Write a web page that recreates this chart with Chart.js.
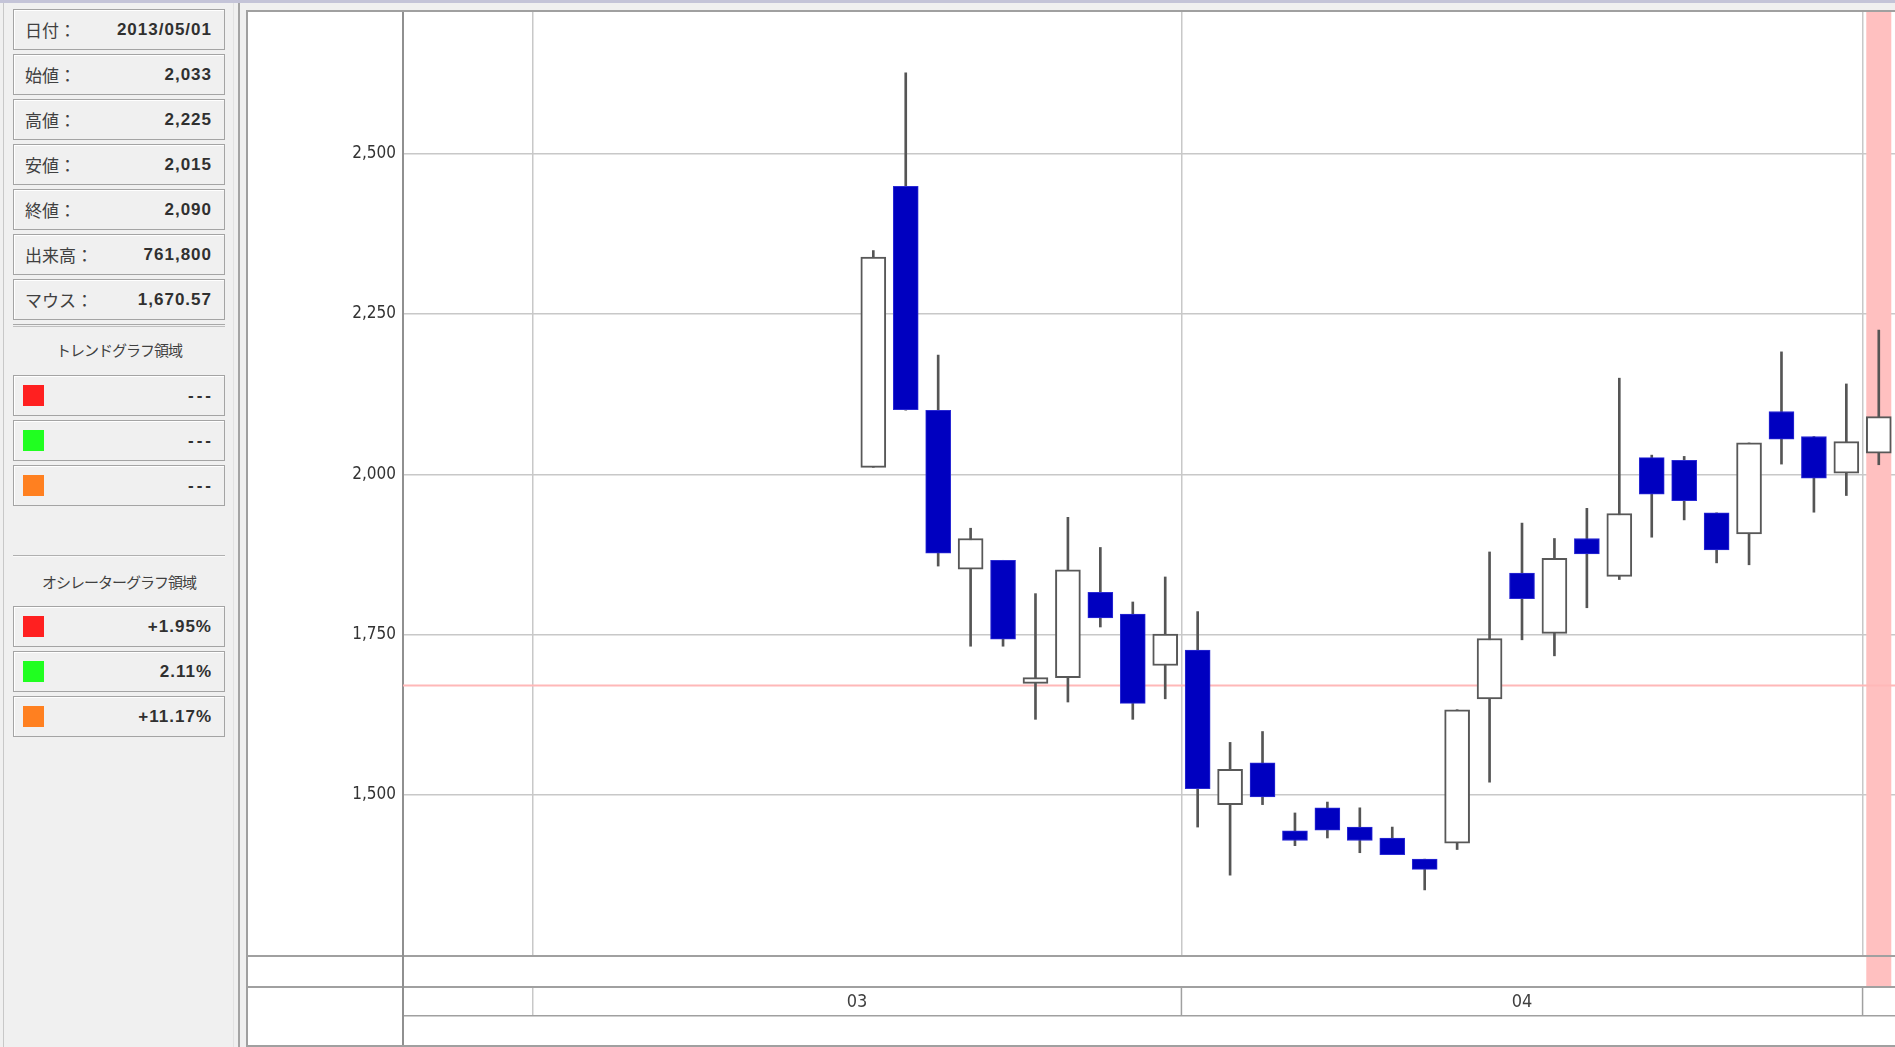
<!DOCTYPE html>
<html><head><meta charset="utf-8">
<script src="https://cdn.jsdelivr.net/npm/chart.js@4.4.1/dist/chart.umd.min.js"></script>
<style>
html,body{margin:0;padding:0;width:1895px;height:1047px;overflow:hidden;background:#f0f0f0;}
#topstripe{position:absolute;left:0;top:0;width:1895px;height:3px;background:#c4c4d8;}
#leftedge{position:absolute;left:3px;top:3px;width:1px;height:1044px;background:#c8c8c8;}
#divider{position:absolute;left:238px;top:3px;width:2px;height:1044px;background:#a4a4a4;}
#divider2{position:absolute;left:233px;top:3px;width:1px;height:1044px;background:#e2e2e2;}
#frame{position:absolute;left:246px;top:10px;width:1649px;height:1037px;box-sizing:border-box;border-left:2px solid #a0a0a0;border-top:2px solid #a0a0a0;border-bottom:2px solid #a0a0a0;background:#fff;}
#wrap{position:absolute;left:248px;top:12px;width:1647px;height:1033px;}
.box{position:absolute;left:13px;width:212px;height:41px;box-sizing:border-box;border:1px solid #a4a4a4;box-shadow:inset 1px 1px 0 #fff;}
.lab{position:absolute;left:11px;top:0;line-height:39px;font-size:17px;font-family:'Noto Sans CJK JP',sans-serif;color:#404040;}
.val{position:absolute;right:12px;top:0;line-height:39px;font-weight:bold;font-size:17px;font-family:'Liberation Sans',sans-serif;letter-spacing:1px;color:#303030;}
.sq{position:absolute;left:9px;top:9px;width:21px;height:21px;}
.head{position:absolute;left:13px;width:212px;height:20px;line-height:20px;text-align:center;font-size:15px;font-family:'Noto Sans CJK JP',sans-serif;color:#404040;letter-spacing:-1px;}
.sep{position:absolute;left:13px;width:212px;}
</style></head>
<body>
<div id="topstripe"></div>
<div id="leftedge"></div>
<div id="divider2"></div>
<div id="divider"></div>
<div id="panel"></div>
<div id="frame"></div>
<div id="wrap"><canvas id="c"></canvas></div>
<script>
// ---- data ----
const dates = ['2013/02/25','2013/02/26','2013/02/27','2013/02/28',
 '2013/03/01','2013/03/04','2013/03/05','2013/03/06','2013/03/07','2013/03/08','2013/03/11','2013/03/12','2013/03/13','2013/03/14',
 '2013/03/15','2013/03/18','2013/03/19','2013/03/21','2013/03/22','2013/03/25','2013/03/26','2013/03/27','2013/03/28','2013/03/29',
 '2013/04/01','2013/04/02','2013/04/03','2013/04/04','2013/04/05','2013/04/08','2013/04/09','2013/04/10','2013/04/11','2013/04/12',
 '2013/04/15','2013/04/16','2013/04/17','2013/04/18','2013/04/19','2013/04/22','2013/04/23','2013/04/24','2013/04/25','2013/04/26','2013/04/30',
 '2013/05/01'];
const opens  = [null,null,null,null,null,null,null,null,null,null,null,null,null,null,
 2011,2449,2100,1852,1866,1674,1683,1816,1782,1702,
 1726,1485,1550,1444,1480,1450,1433,1400,1425,1650,
 1846,1752,1900,1841,2026,2022,1940,1907,2098,2059,2002,
 2033];
const highs  = [null,null,null,null,null,null,null,null,null,null,null,null,null,null,
 2349,2626,2186,1916,1866,1814,1933,1886,1801,1840,
 1786,1582,1599,1472,1489,1480,1450,1400,1633,1879,
 1924,1900,1947,2150,2030,2028,1940,2049,2191,2059,2141,
 2225];
const lows   = [null,null,null,null,null,null,null,null,null,null,null,null,null,null,
 2011,2100,1857,1732,1732,1618,1645,1762,1618,1650,
 1450,1375,1485,1421,1433,1410,1407,1352,1415,1520,
 1742,1717,1792,1836,1902,1929,1862,1859,2016,1941,1967,
 2015];
const closes = [null,null,null,null,null,null,null,null,null,null,null,null,null,null,
 2339,2101,1877,1900,1743,1683,1851,1776,1643,1751,
 1510,1540,1497,1429,1445,1429,1407,1384,1633,1744,
 1806,1869,1876,1939,1969,1959,1882,2049,2055,1994,2051,
 2090];
const yTickValues = [1500, 1750, 2000, 2250, 2500];
const monthLabels = ['03', '04'];
const crosshairValue = 1670.57;
const crosshairIndex = 45;

const panelLabels = ['日付：','始値：','高値：','安値：','終値：','出来高：','マウス：'];
const panelValues = ['2013/05/01','2,033','2,225','2,015','2,090','761,800','1,670.57'];
const trendValues = ['---','---','---'];
const oscValues = ['+1.95%','2.11%','+11.17%'];
const seriesColors = ['#ff2020','#20ff20','#ff8020'];

// ---- left panel ----
(function(){
  const p = document.getElementById('panel');
  let h = '';
  const infoTops = [9,54,99,144,189,234,279];
  panelLabels.forEach((l,i)=>{
    h += `<div class="box" style="top:${infoTops[i]}px"><span class="lab">${l}</span><span class="val">${panelValues[i]}</span></div>`;
  });
  h += `<div class="sep" style="top:324px;height:1px;background:#a8a8a8"></div><div class="sep" style="top:326px;height:1px;background:#c0c0c0"></div>`;
  h += `<div class="head" style="top:340px">トレンドグラフ領域</div>`;
  const trendTops = [375,420,465];
  trendValues.forEach((v,i)=>{
    h += `<div class="box" style="top:${trendTops[i]}px"><span class="sq" style="background:${seriesColors[i]}"></span><span class="val" style="letter-spacing:3px;right:10px">${v}</span></div>`;
  });
  h += `<div class="sep" style="top:555px;height:1px;background:#b0b0b0"></div><div class="sep" style="top:556px;height:1px;background:#fafafa"></div>`;
  h += `<div class="head" style="top:572px">オシレーターグラフ領域</div>`;
  const oscTops = [606,651,696];
  oscValues.forEach((v,i)=>{
    h += `<div class="box" style="top:${oscTops[i]}px"><span class="sq" style="background:${seriesColors[i]}"></span><span class="val">${v}</span></div>`;
  });
  p.innerHTML = h;
})();

// ---- chart ----
const monthOf = d => d.slice(5,7);
const isMonthStart = i => i > 0 && i < dates.length && monthOf(dates[i]) !== monthOf(dates[i-1]);
const isUp = i => closes[i] >= opens[i];

const framePlugin = {
  id: 'frameRows',
  beforeDatasetsDraw(chart){
    const {ctx, chartArea: ca, scales: {x, y}} = chart;
    ctx.save();
    const cx = x.getPixelForValue(crosshairIndex);
    ctx.fillStyle = '#ffc0c0';
    ctx.fillRect(cx - 12.5, ca.top, 25, ca.bottom - ca.top);
    const py = y.getPixelForValue(crosshairValue);
    ctx.strokeStyle = '#ffb8b8';
    ctx.lineWidth = 2;
    ctx.beginPath(); ctx.moveTo(ca.left, py); ctx.lineTo(ca.right, py); ctx.stroke();
    ctx.restore();
  },
  afterDraw(chart){
    const {ctx, chartArea: ca, scales: {x}} = chart;
    const b = ca.bottom, W = chart.width, L = ca.left, H = chart.height;
    ctx.save();
    const cx = x.getPixelForValue(crosshairIndex);
    ctx.fillStyle = '#fff';
    ctx.fillRect(0, b, W, H - b);
    ctx.fillStyle = '#ffc0c0';
    ctx.fillRect(cx - 12.5, b + 2, 25, 29);
    ctx.fillStyle = '#a0a0a0';
    ctx.fillRect(0, b, W, 2);
    ctx.fillRect(0, b + 31, W, 2);
    ctx.fillRect(L, b + 60, W - L, 1.5);
    ctx.fillStyle = '#909090';
    ctx.fillRect(L - 1, b, 2, H - b);
    // month boundaries in label row
    const half = (x.getPixelForValue(1) - x.getPixelForValue(0)) / 2;
    dates.forEach((d, i) => {
      if (isMonthStart(i)) {
        const px = x.getPixelForValue(i) - half;
        ctx.fillStyle = monthOf(d) === '03' ? '#c8c8c8' : '#a0a0a0';
        ctx.fillRect(px - 0.75, b + 33, 1.5, 27);
      }
    });
    // month labels
    ctx.fillStyle = '#404040';
    ctx.font = "18px 'Liberation Sans Narrow','DejaVu Sans Condensed',sans-serif";
    ctx.textAlign = 'center';
    ctx.textBaseline = 'middle';
    monthLabels.forEach(m => {
      const idx = dates.map((d, i) => monthOf(d) === m ? i : -1).filter(i => i >= 0);
      const x0 = x.getPixelForValue(idx[0]) - half;
      const x1 = x.getPixelForValue(idx[idx.length - 1]) + half;
      ctx.fillText(m, (x0 + x1) / 2, b + 47);
    });
    ctx.restore();
  }
};

new Chart(document.getElementById('c'), {
  type: 'bar',
  data: {
    labels: dates,
    datasets: [
      {
        label: 'body',
        data: dates.map((d, i) => opens[i] == null ? null : [opens[i], closes[i]]),
        grouped: false,
        barThickness: 25,
        borderSkipped: false,
        backgroundColor: c => isUp(c.dataIndex) ? '#ffffff' : '#0000c0',
        borderColor: c => isUp(c.dataIndex) ? '#585858' : '#2a2ad4',
        borderWidth: c => isUp(c.dataIndex) ? 2 : 1
      },
      {
        label: 'wick',
        data: dates.map((d, i) => lows[i] == null ? null : [lows[i], highs[i]]),
        grouped: false,
        barThickness: 2,
        backgroundColor: '#555555',
        borderWidth: 0
      }
    ]
  },
  options: {
    responsive: true,
    maintainAspectRatio: false,
    animation: false,
    layout: { padding: { top: 0, right: 0, left: 0, bottom: 90 } },
    plugins: { legend: { display: false }, tooltip: { enabled: false } },
    scales: {
      x: {
        type: 'category',
        offset: true,
        ticks: { display: false, autoSkip: false },
        border: { display: false },
        grid: {
          offset: true,
          drawTicks: false,
          lineWidth: 1.5,
          color: c => (c.index !== undefined && isMonthStart(c.index)) ? '#c8c8c8' : 'rgba(0,0,0,0)'
        },
        afterFit: s => { s.height = 0; }
      },
      y: {
        min: 1250.5,
        max: 2721,
        afterBuildTicks: s => { s.ticks = yTickValues.map(v => ({ value: v })); },
        afterFit: s => { s.width = 155; s.paddingTop = 0; s.paddingBottom = 0; },
        ticks: {
          padding: 7,
          color: '#333',
          font: { family: "'Liberation Sans Narrow','DejaVu Sans Condensed',sans-serif", size: 17 },
          callback: v => Number(v).toLocaleString('en-US')
        },
        grid: { color: '#c8c8c8', lineWidth: 1.5, drawTicks: false },
        border: { color: '#909090', width: 2 }
      }
    }
  },
  plugins: [framePlugin]
});
</script>
</body></html>
